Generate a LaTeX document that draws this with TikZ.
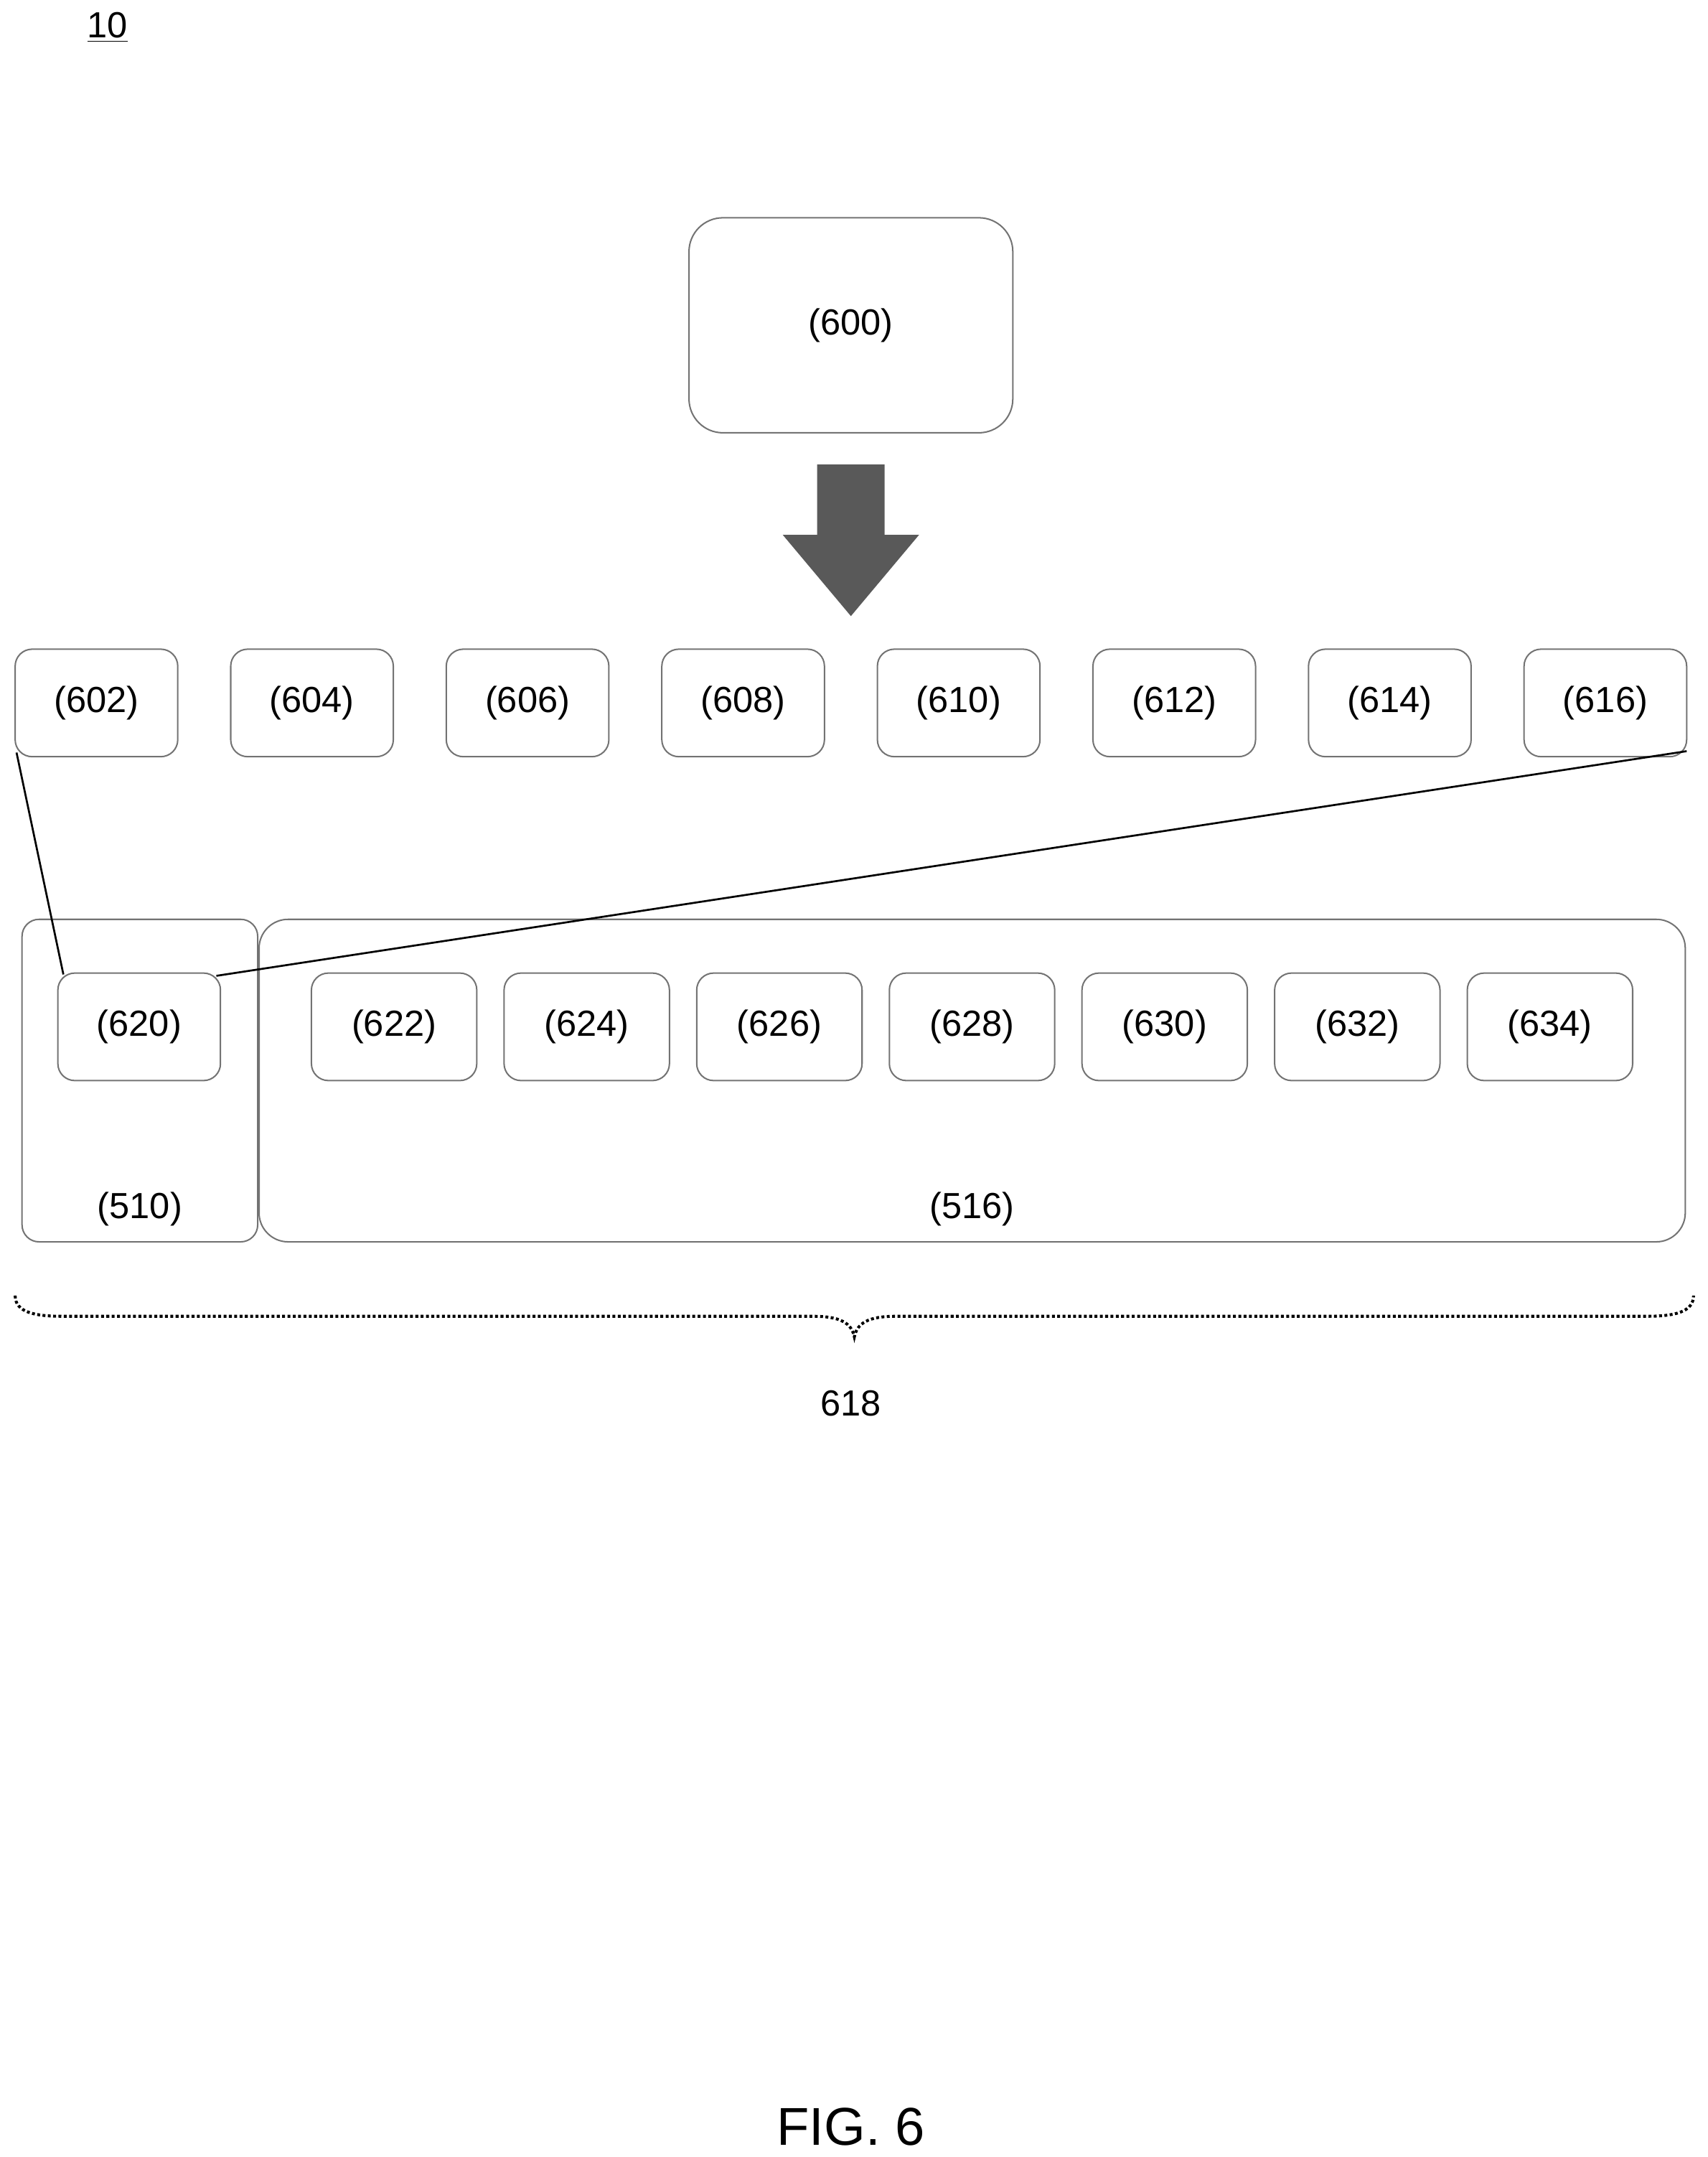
\documentclass[tikz,border=0pt]{standalone}
\usepackage{fontspec}
\setmainfont{Liberation Sans}
\begin{document}
\begin{tikzpicture}[x=0.02cm,y=-0.02cm,
  bx/.style={draw=black!55,rounded corners=7pt,line width=0.6pt},
  lbl/.style={font=\fontsize{15}{18}\selectfont}]
\useasboundingbox (0,0) rectangle (1239,1565);
\node[lbl,inner sep=1pt] (ten) at (78,20) {\underline{10}};
\draw[bx,rounded corners=14pt] (500,158) rectangle (735,314);
\node[lbl] (n600) at (617.5,236) {(600)};
\fill[black!65] (593,337) -- (642,337) -- (642,388) -- (667,388) -- (617.5,447) -- (568,388) -- (593,388) -- cycle;
\foreach \n [count=\i from 0] in {602,604,606,608,610,612,614,616}{
  \pgfmathsetmacro\xl{11+156.43*\i}
  \draw[bx] (\xl,471) rectangle ++(118,78);
  \node[lbl] (n\n) at (\xl+59,510) {(\n)};
}
\draw[bx] (16,667) rectangle (187,901);
\draw[bx,rounded corners=12pt] (188,667) rectangle (1223,901);
\node[lbl] (n510) at (101.5,877) {(510)};
\node[lbl] (n516) at (705.5,877) {(516)};
\draw[bx] (42,706) rectangle (160,784);
\node[lbl] (n620) at (101,745) {(620)};
\foreach \n [count=\i from 0] in {622,624,626,628,630,632,634}{
  \pgfmathsetmacro\xl{226+139.8*\i}
  \draw[bx] (\xl,706) rectangle ++(120,78);
  \node[lbl] (n\n) at (\xl+60,745) {(\n)};
}
\coordinate (a1) at (12,546); \coordinate (a2) at (46,707);
\coordinate (b1) at (1224,545); \coordinate (b2) at (157,708);
\draw[line width=0.8pt] (a1) -- (a2);
\draw[line width=0.8pt] (b1) -- (b2);
\draw[densely dotted,line width=1.2pt] (11,940) .. controls (11,952) and (25,955) .. (45,955) -- (590,955) .. controls (610,955) and (618,960) .. (620,970) .. controls (622,960) and (630,955) .. (650,955) -- (1195,955) .. controls (1215,955) and (1229,952) .. (1229,940);
\node[lbl] (n618) at (617.5,1018) {618};
\node[font=\fontsize{22}{26}\selectfont] (fig) at (617.5,1543) {FIG. 6};
\end{tikzpicture}
\end{document}
